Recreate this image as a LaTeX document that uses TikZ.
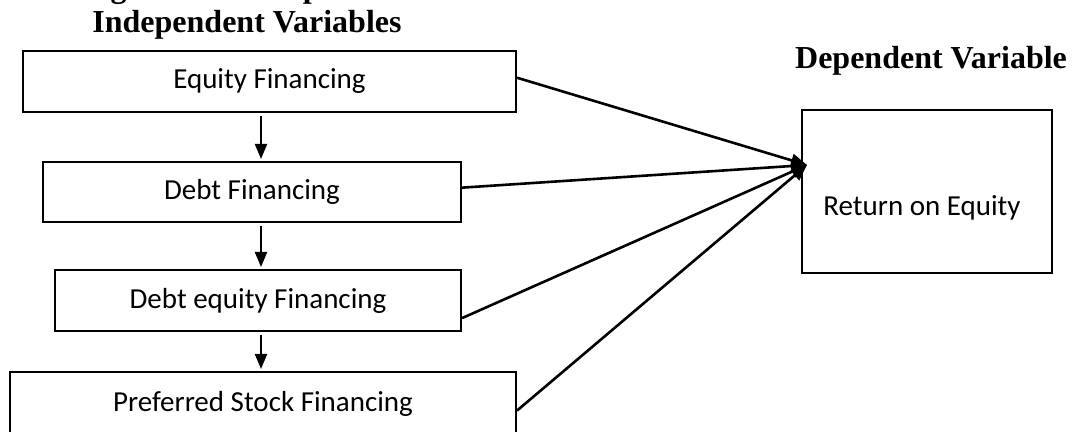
\documentclass[tikz,border=0pt]{standalone}
\usepackage{fontspec}
\setmainfont{Liberation Serif}
\newfontfamily\boxfont{Carlito}
\usetikzlibrary{calc}
\usetikzlibrary{arrows.meta}
\tikzset{>=stealth}

\begin{document}
\begin{tikzpicture}
	[x=0.5pt,y=-0.5pt,
	varbox/.style={draw,line width=1pt,font=\boxfont\fontsize{14.5}{17}\selectfont},
	heading/.style={font=\fontsize{16}{19}\selectfont\bfseries,anchor=base},
	dn/.style={-{Triangle[length=7.5pt,width=6pt]},line width=1pt,shorten <=1.5pt,shorten >=1pt},
	tolink/.style={-{Triangle[length=8pt,width=6.5pt]},line width=1.3pt}]
	\useasboundingbox (0,0) rectangle (1075,432);
	\clip (0,0) rectangle (1075,432);
	% headings
	\node [heading,anchor=base west] (fig) at (75,-2) {Figure 1: Conceptual Framework};
	\node [heading] (indep) at (247,33) {Independent Variables};
	\node [heading] (dep) at (931,69) {Dependent Variable};
	% independent variables
	\node [varbox,minimum width=246.5pt,minimum height=30.5pt] (equity) at (269.5,81.5) {Equity Financing};
	\node [varbox,minimum width=209pt,minimum height=30pt] (debt) at (252,192) {Debt Financing};
	\node [varbox,minimum width=203pt,minimum height=30.5pt] (debteq) at (258,300.5) {Debt equity Financing};
	\node [varbox,minimum width=253pt,minimum height=32pt] (pref) at (263,404) {Preferred Stock Financing};
	% dependent variable
	\node [varbox,minimum width=125pt,minimum height=81.5pt] (roe) at (927,191.5) {};
	\node [font=\boxfont\fontsize{14.5}{17}\selectfont] (roetext) at (922,208) {Return on Equity};
	\coordinate (spine) at (261,0);
	\coordinate (hub) at (807,165);
	\draw [dn] (equity.south -| spine) -- (debt.north -| spine);
	\draw [dn] (debt.south -| spine) -- (debteq.north -| spine);
	\draw [dn] (debteq.south -| spine) -- (pref.north -| spine);
	\draw [tolink] ($(equity.north east)!0.44!(equity.south east)$) -- (hub);
	\draw [tolink] ($(debt.north east)!0.43!(debt.south east)$) -- (hub);
	\draw [tolink] ($(debteq.north east)!0.78!(debteq.south east)$) -- (hub);
	\draw [tolink] ($(pref.north east)!0.6!(pref.south east)$) -- (hub);
\end{tikzpicture}
\end{document}
